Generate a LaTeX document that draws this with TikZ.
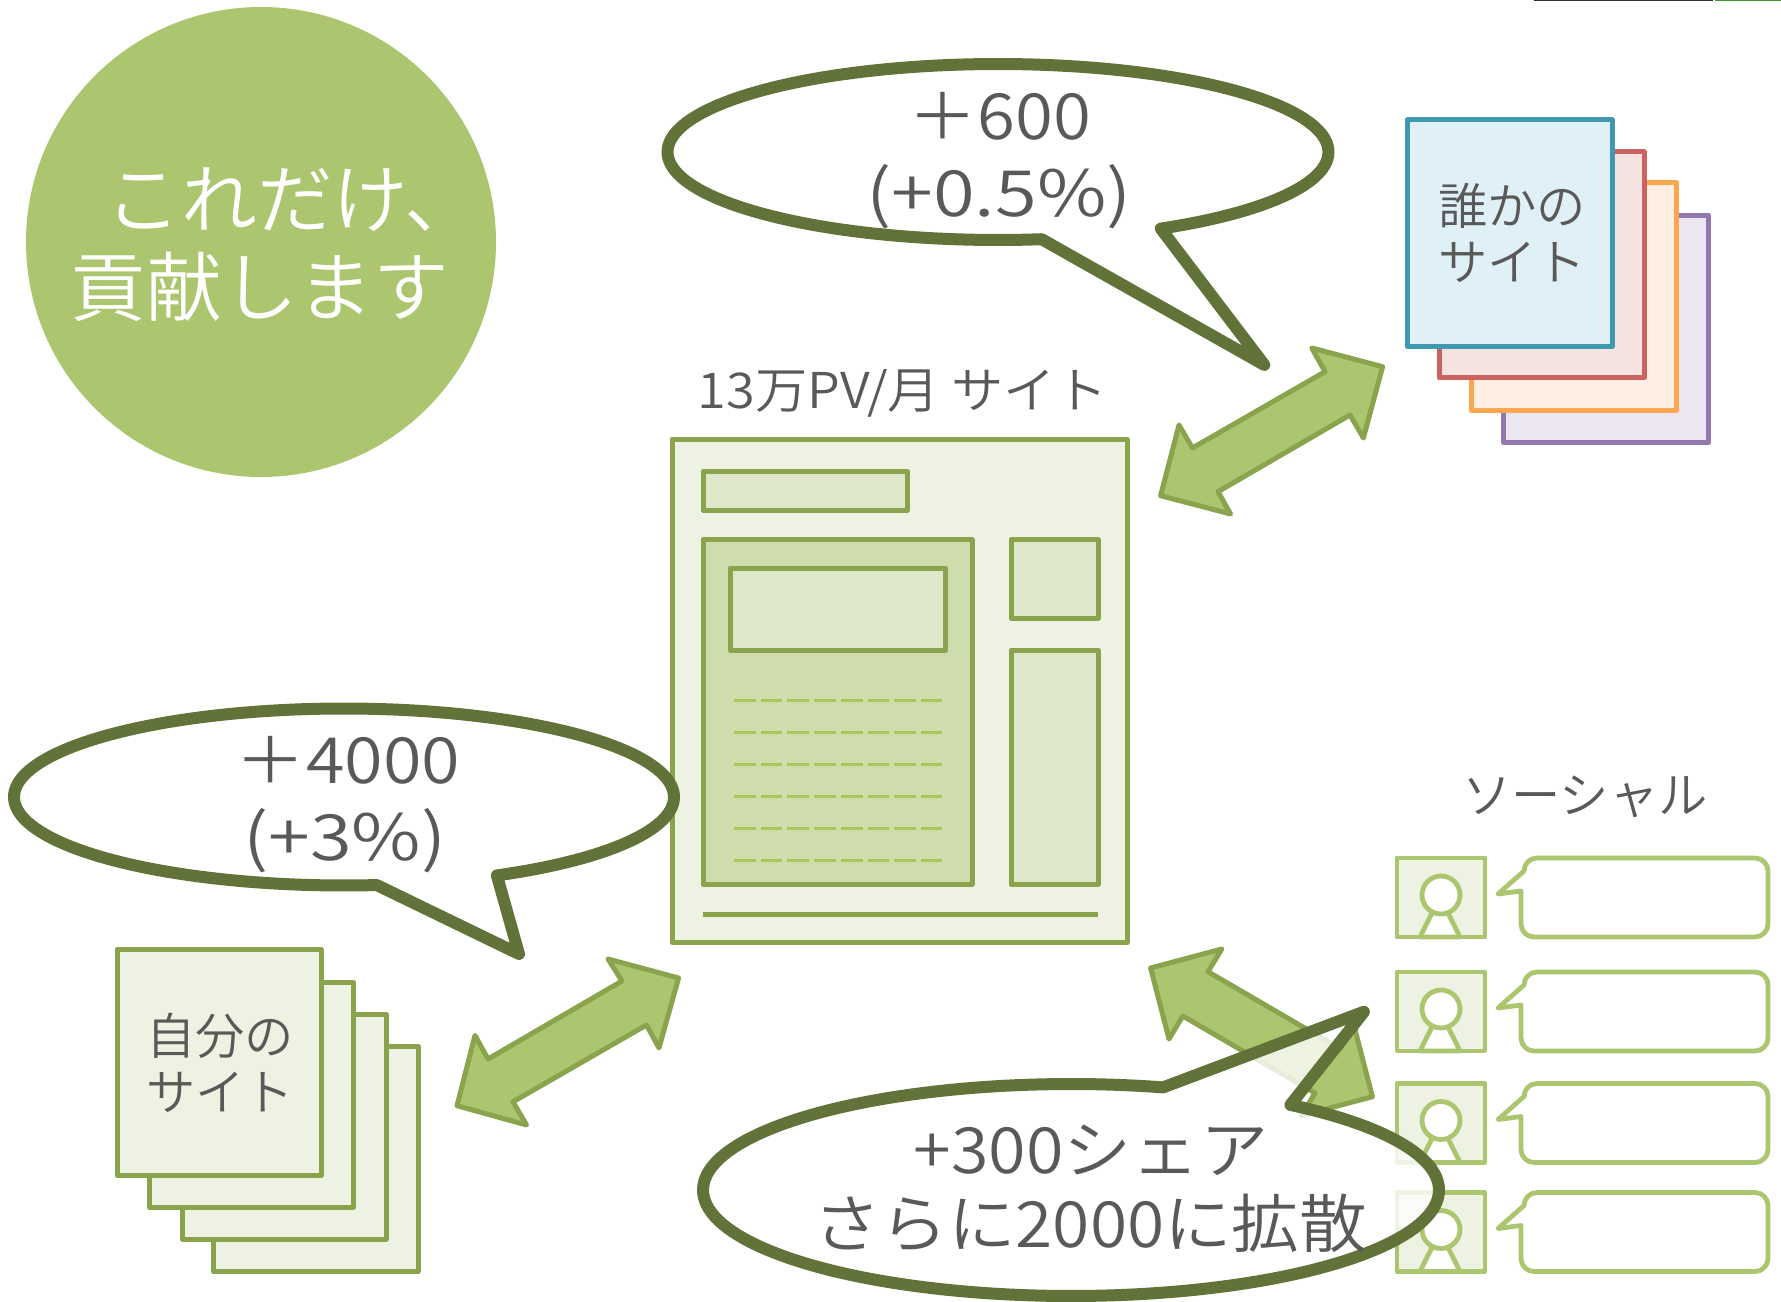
\documentclass[tikz,border=0pt]{standalone}
\usepackage{graphicx}
\usepackage{fontspec}
\setmainfont{Noto Sans CJK JP DemiLight}
\definecolor{txt}{HTML}{595959}
\definecolor{olive}{HTML}{62733A}
\definecolor{lime}{HTML}{ABC66E}
\definecolor{limeedge}{HTML}{8AA34D}
\definecolor{pagefill}{HTML}{EEF2E3}
\definecolor{subfill}{HTML}{DEE7CA}
\definecolor{mainfill}{HTML}{CEDDAB}
\definecolor{dashcol}{HTML}{A9C75A}
\definecolor{purpE}{HTML}{9378B0}
\definecolor{purpF}{HTML}{EBE6F1}
\definecolor{orE}{HTML}{FBA751}
\definecolor{orF}{HTML}{FFEEE2}
\definecolor{redE}{HTML}{CD6360}
\definecolor{redF}{HTML}{F5E3E1}
\definecolor{blueE}{HTML}{3F97B0}
\definecolor{blueF}{HTML}{E0F0F7}
\definecolor{sliverA}{HTML}{333333}
\definecolor{sliverB}{HTML}{3E9A2E}
\newcommand{\wider}[2]{\scalebox{#1}[1]{#2}}
\tikzset{
  lbl/.style={inner sep=0pt,text=txt,font=\fontsize{49.5}{54}\selectfont},
  big/.style={inner sep=0pt,text=txt,font=\fontsize{64}{70}\selectfont},
  head/.style={inner sep=0pt,text=white,font=\fontsize{76}{82}\selectfont},
  box/.style={draw=limeedge,line width=5bp,line join=round,fill=pagefill},
  subbox/.style={box,fill=subfill},
  sheet/.style 2 args={draw=#1,fill=#2,line width=5bp,line join=round},
  dbl/.style={draw=limeedge,fill=lime,line width=5bp,line join=round},
  callout/.style={draw=olive,line width=12bp,line join=round,line cap=round,fill=white},
  social/.style={draw=lime,line width=4.8bp,line join=round},
  dashline/.style={draw=dashcol,line width=3bp,dash pattern=on 21.7bp off 5bp},
}
\begin{document}
\begin{tikzpicture}[x=1bp,y=-1bp]
\path[use as bounding box] (0,0) rectangle (1781,1302);
% top edge slivers
\fill[sliverA] (1534,0) rectangle (1713,1.5);
\fill[sliverB] (1715,0) rectangle (1781,1.5);
% badge
\node[circle,fill=lime,inner sep=0pt,minimum size=470bp] (badge) at (261,242) {};
\node[head] (badgeA) at (293,200) {これだけ、};
\node[head] (badgeB) at (260,287) {貢献します};
% page
\node[lbl] (pagetitle) at (903,393) {\wider{1.06}{13万PV/月 サイト}};
\draw[box] (672,439) rectangle (1127,942.5);
\draw[subbox] (703,471) rectangle (907,510);
\draw[box,fill=mainfill] (703,539.5) rectangle (972,884.5);
\draw[subbox] (730,568) rectangle (945,650);
\draw[subbox] (1011,539.5) rectangle (1098,618);
\draw[subbox] (1011,650) rectangle (1098,884.5);
\draw[limeedge,line width=5bp] (703,914) -- (1098,914);
\foreach \yy in {700,732,764,796,828,860}{
  \draw[dashline] (734,\yy) -- (942,\yy);
}
% others' sites
\draw[sheet={purpE}{purpF}] (1503.5,215.7) rectangle (1708.6,442.5);
\draw[sheet={orE}{orF}] (1471,183) rectangle (1676.5,410.5);
\draw[sheet={redE}{redF}] (1439,151.7) rectangle (1644,378);
\draw[sheet={blueE}{blueF}] (1407.5,120) rectangle (1612,346.7);
\node[lbl] (otherA) at (1512,206) {誰かの};
\node[lbl] (otherB) at (1512,262) {サイト};
% own sites
\draw[box] (213.5,1046) rectangle (418,1271.5);
\draw[box] (182,1014) rectangle (386,1239);
\draw[box] (149,982) rectangle (353.5,1207);
\draw[box] (117,949.6) rectangle (321,1175.5);
\node[lbl] (ownA) at (220,1036) {自分の};
\node[lbl] (ownB) at (220,1092) {サイト};
% double arrows
\draw[dbl] (1382.6,366.7) -- (1311.8,348) -- (1325,371.7) -- (1192.4,448) -- (1179,425) -- (1160.6,495.7) -- (1230.6,514) -- (1218,491.7) -- (1350,415) -- (1363.4,438) -- cycle;
\draw[dbl] (678.6,978) -- (608,959) -- (622,981) -- (488,1059) -- (475,1035.4) -- (457,1105.7) -- (526.6,1125) -- (513,1101.8) -- (646.5,1025) -- (659,1048) -- cycle;
\draw[dbl] (1150.6,968) -- (1221.8,949) -- (1208,971.7) -- (1340.2,1048.7) -- (1354,1025.7) -- (1372.4,1096.7) -- (1301.2,1115.7) -- (1315,1093) -- (1182.8,1016) -- (1169,1039) -- cycle;
% social
\node[lbl] (socialtitle) at (1585,797) {ソーシャル};
\foreach \yo in {858,972,1083.5,1192.5}{
  \draw[social,fill=pagefill] (1397,\yo) rectangle (1485,\yo+79);
  \draw[social,fill=white] (1432,\yo+55) -- (1420,\yo+79) -- (1460,\yo+79) -- (1448,\yo+55) -- cycle;
  \draw[social,fill=white] (1441,\yo+37) circle (19bp);
  \draw[social,fill=white,rounded corners=13bp] (1521,\yo+33) -- (1521,\yo+79) -- (1768,\yo+79) -- (1768,\yo) -- (1524,\yo) [sharp corners] -- (1524,\yo+13) -- (1498,\yo+36) -- cycle;
}
% callouts
\draw[callout] plot[domain=82.4:420.5,samples=160] ({998+330.5*cos(\x)},{152+88*sin(\x)}) -- (1264.4,365) -- cycle;
\node[big] (c1a) at (1000,116) {\wider{1.08}{＋600}};
\node[big] (c1b) at (999,197) {\wider{1.19}{(+0.5\%)}};
\draw[callout] plot[domain=84.3:422.4,samples=160] ({344+330*cos(\x)},{797+88.5*sin(\x)}) -- (519,954) -- cycle;
\node[big] (c2a) at (348,760) {\wider{1.1}{＋4000}};
\node[big] (c2b) at (345,841) {\wider{1.19}{(+3\%)}};
\path[fill=white,fill opacity=0.8] plot[domain=-53.4:284.5,samples=160] ({1071+368*cos(\x)},{1190+106*sin(\x)}) -- (1364,1011.7) -- cycle;
\draw[draw=olive,line width=12bp,line join=round,line cap=round] plot[domain=-53.4:284.5,samples=160] ({1071+368*cos(\x)},{1190+106*sin(\x)}) -- (1364,1011.7) -- cycle;
\node[big] (c3a) at (1091,1150) {\wider{1.07}{+300シェア}};
\node[big] (c3b) at (1090,1223) {\wider{1.06}{さらに2000に拡散}};
\end{tikzpicture}
\end{document}
